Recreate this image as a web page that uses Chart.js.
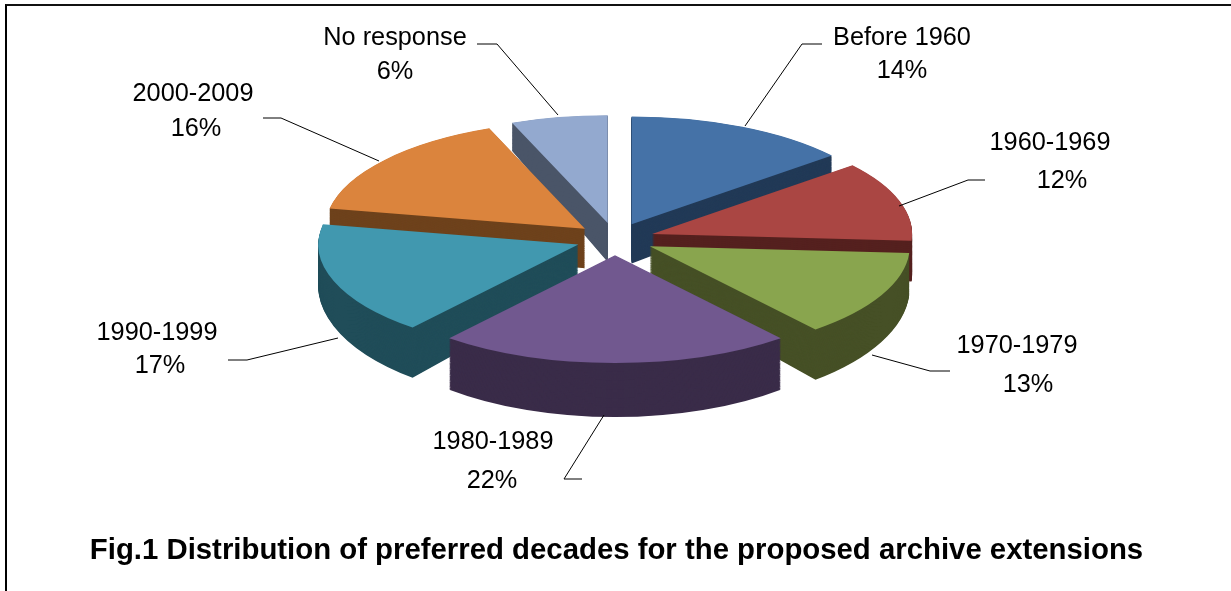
<!DOCTYPE html>
<html>
<head>
<meta charset="utf-8">
<title>Fig.1</title>
<script src="https://cdn.jsdelivr.net/npm/chart.js@4/dist/chart.umd.min.js"></script>
<style>
    html, body { margin: 0; padding: 0; background: #fff; }
    #wrap { position: relative; width: 1231px; height: 591px; overflow: hidden; }
    #frame { position: absolute; left: 5px; top: 4px; right: 0; bottom: -10px;
             border-top: 2px solid #111; border-left: 2px solid #000; }
    canvas { position: absolute; left: 0; top: 0; }
</style>
</head>
<body>
<div id="wrap">
    <div id="frame"></div>
    <canvas id="chart" width="1231" height="591"></canvas>
</div>
<script>
// data
const decades = ['Before 1960', '1960-1969', '1970-1979', '1980-1989', '1990-1999', '2000-2009', 'No response'];
const shares = [14, 12, 13, 22, 17, 16, 6];

// colours: top face, side face
const topColors = ['#4572A7', '#AA4643', '#89A54E', '#71588F', '#4198AF', '#DB843D', '#93A9CF'];
const sideColors = ['#223A57', '#55211F', '#465026', '#3A2C49', '#204D59', '#6E421C', '#4A5568'];

// label layout: name xy, percent xy, leader line points
const labelLayout = [
    { name: [902, 38], pct: [902, 71], line: [[822, 44], [802, 44], [745, 126]] },
    { name: [1050, 143], pct: [1062, 181], line: [[985, 180], [968, 180], [899, 206]] },
    { name: [1017, 346], pct: [1028, 385], line: [[950, 371], [930, 371], [872, 355]] },
    { name: [493, 442], pct: [492, 481], line: [[582, 479], [564, 479], [604, 415]] },
    { name: [157, 333], pct: [160, 366], line: [[228, 360], [247, 360], [338, 338]] },
    { name: [193, 94], pct: [196, 129], line: [[263, 118], [281, 118], [379, 161]] },
    { name: [395, 38], pct: [395, 72], line: [[477, 44], [497, 44], [558, 115]] }
];

const PIE = {
    radius: 260,
    explode: 39,    // in disc units, pushed along each slice's middle
    centerX: 615,
    centerY: 239,   // where the pie centre lands after tilting
    tilt: 0.415,    // vertical squash of the disc
    vanishY: -137,  // depth grows with distance from this line
    depth: 0.108
};
const FONT = '"Liberation Sans", Arial, sans-serif';

function mid(arc) {
    return (arc.startAngle + arc.endAngle) / 2;
}

// draws the slices as tilted discs with a dark extruded side
const tiltedPie = {
    id: 'tiltedPie',
    beforeDatasetsDraw(chart) {
        const ctx = chart.ctx;
        const arcs = chart.getDatasetMeta(0).data.map((arc, i) => ({ arc, i }));
        // back slices first
        arcs.sort((a, b) => Math.sin(mid(a.arc)) - Math.sin(mid(b.arc)));

        const paint = (arc, color, t) => {
            const base = arc.options;
            arc.options = Object.assign({}, base, { backgroundColor: color, borderColor: color, borderWidth: 0 });
            ctx.save();
            ctx.translate(PIE.centerX - arc.x, PIE.vanishY);
            ctx.scale(1, 1 + PIE.depth * t);
            ctx.translate(0, PIE.centerY - PIE.vanishY);
            ctx.scale(1, PIE.tilt);
            ctx.translate(Math.cos(mid(arc)) * PIE.explode, Math.sin(mid(arc)) * PIE.explode - arc.y);
            arc.draw(ctx);
            ctx.restore();
            arc.options = base;
        };

        arcs.forEach(({ arc, i }) => {
            const steps = 60;
            for (let s = steps; s > 0; s--) {
                paint(arc, sideColors[i], s / steps);
            }
            paint(arc, topColors[i], 0);
        });
        return false;
    },
    afterDraw(chart) {
        const ctx = chart.ctx;
        ctx.save();
        ctx.strokeStyle = '#000';
        ctx.lineWidth = 1;
        labelLayout.forEach(l => {
            ctx.beginPath();
            l.line.forEach((p, i) => i ? ctx.lineTo(p[0], p[1]) : ctx.moveTo(p[0], p[1]));
            ctx.stroke();
        });
        ctx.fillStyle = '#000';
        ctx.font = '25.3px ' + FONT;
        ctx.textAlign = 'center';
        ctx.textBaseline = 'middle';
        decades.forEach((name, i) => {
            const l = labelLayout[i];
            ctx.fillText(name, l.name[0], l.name[1]);
            ctx.fillText(shares[i] + '%', l.pct[0], l.pct[1]);
        });
        ctx.restore();
    }
};

new Chart(document.getElementById('chart'), {
    type: 'pie',
    data: {
        labels: decades,
        datasets: [{
            data: shares,
            backgroundColor: topColors,
            borderWidth: 0
        }]
    },
    options: {
        responsive: false,
        animation: false,
        radius: PIE.radius,
        layout: { padding: { left: 2 } },
        plugins: {
            legend: { display: false },
            tooltip: { enabled: false },
            title: {
                display: true,
                position: 'bottom',
                text: 'Fig.1 Distribution of preferred decades for the proposed archive extensions',
                color: '#000',
                font: { family: FONT, size: 29.35, weight: 'bold' },
                padding: { top: 0, bottom: 22 }
            }
        }
    },
    plugins: [tiltedPie]
});
</script>
</body>
</html>
